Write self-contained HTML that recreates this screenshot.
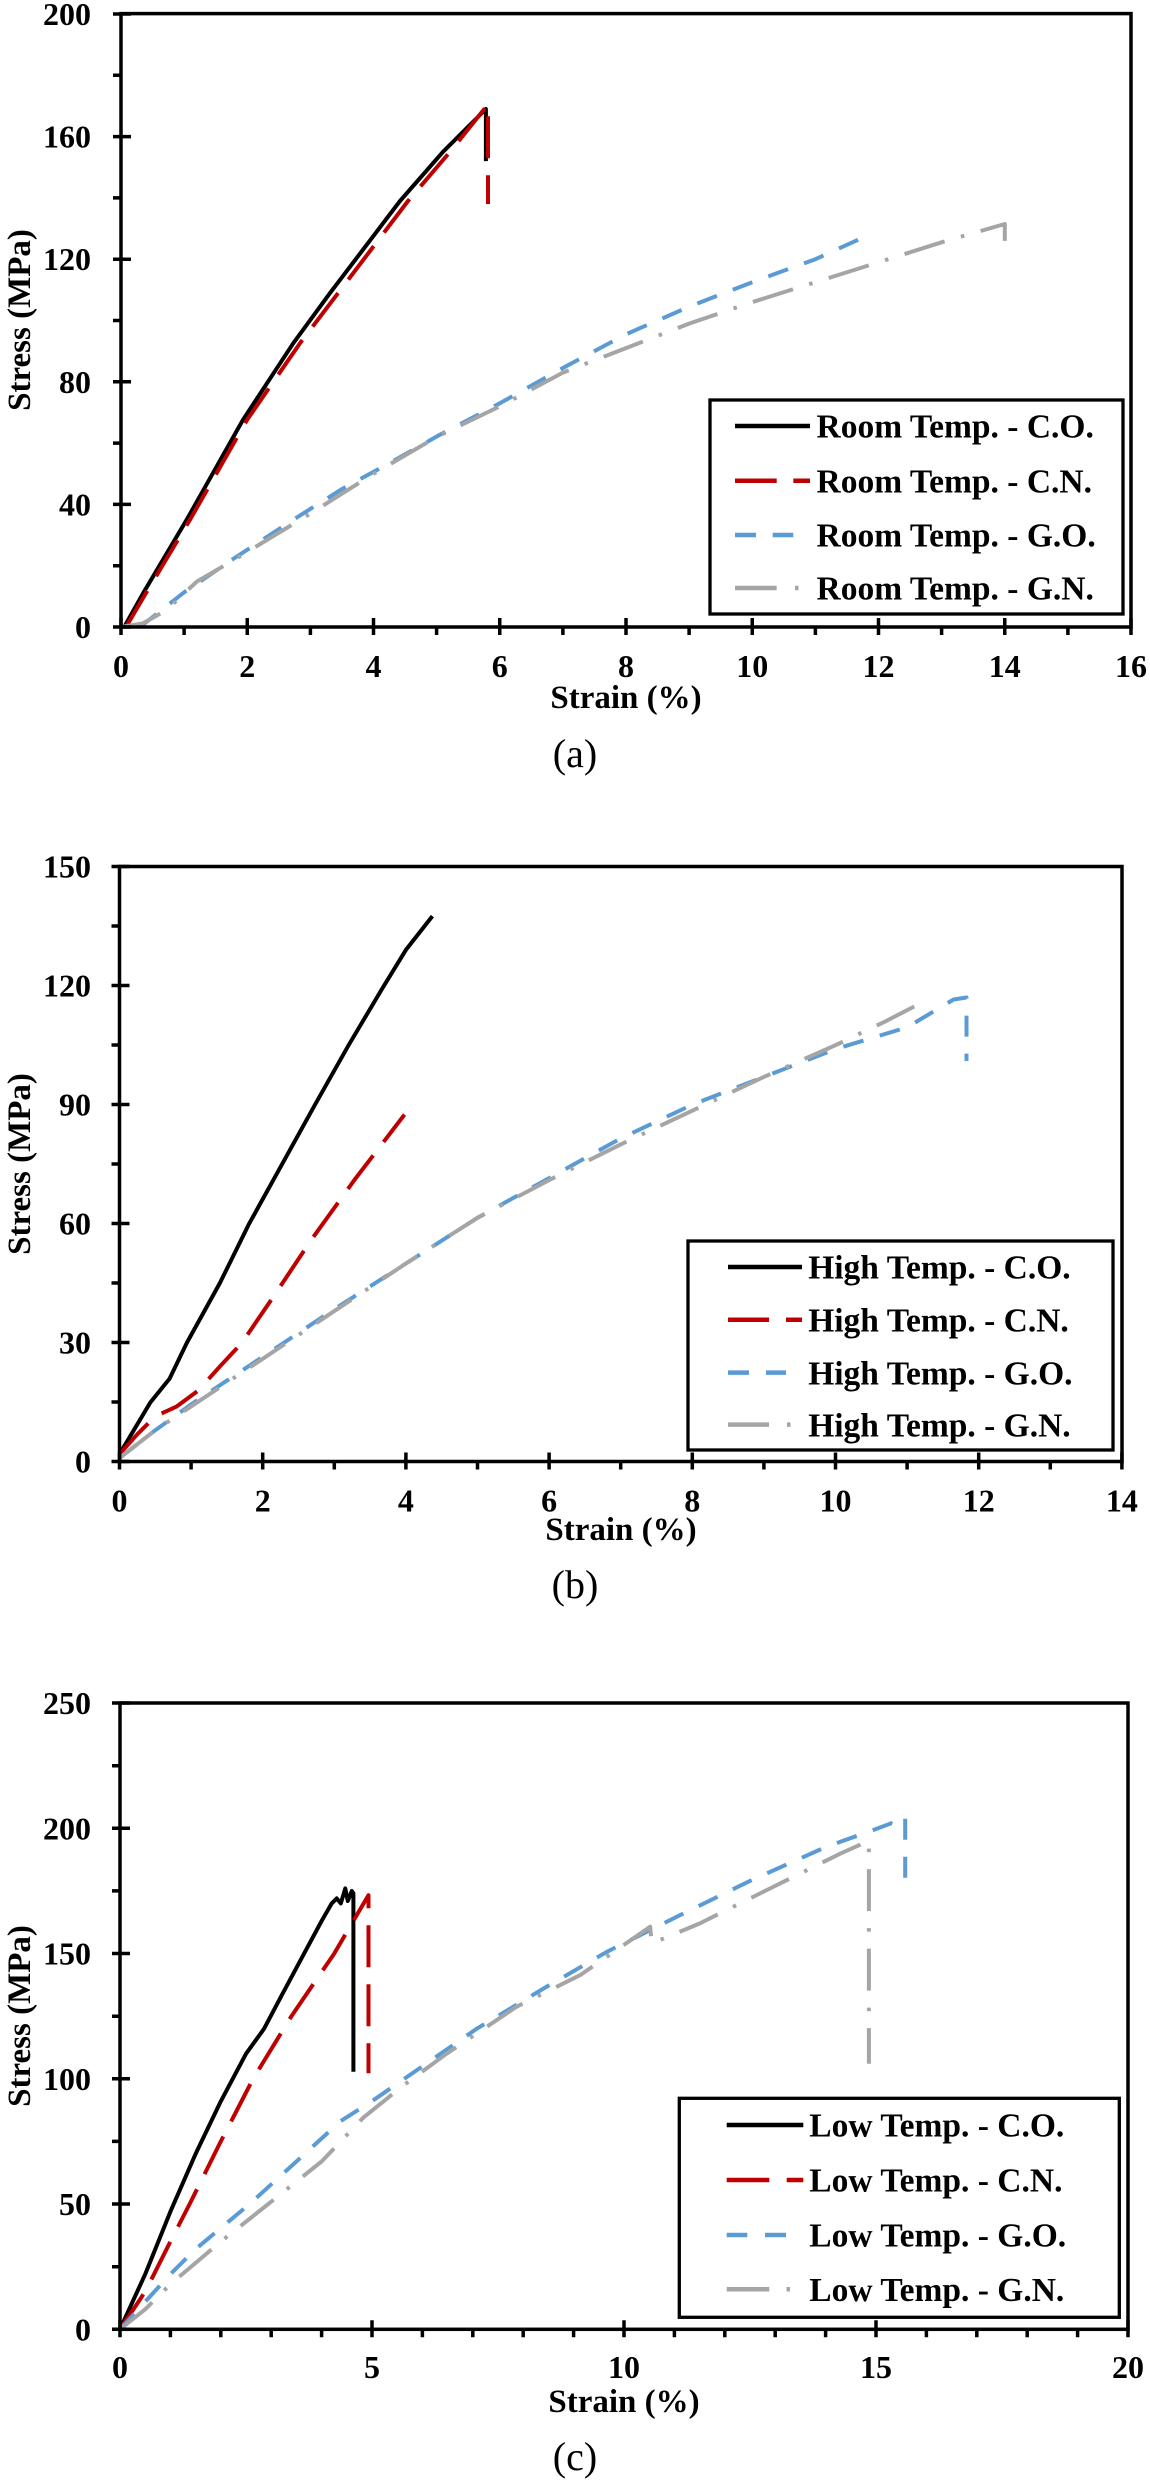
<!DOCTYPE html>
<html><head><meta charset="utf-8"><style>
html,body{margin:0;padding:0;background:#fff;}
svg{display:block;}
text{font-family:"Liberation Serif","Times New Roman",serif;fill:#000;}
.tk{font-size:32px;font-weight:bold;}
.ax{font-size:33px;font-weight:bold;}
.lg{font-size:33.5px;font-weight:bold;}
.cap{font-size:40px;}
.frame{fill:none;stroke:#000;stroke-width:3.5;}
.tick{fill:none;stroke:#000;stroke-width:3.5;}
.s{fill:none;stroke-width:4;stroke-linejoin:round;}
.k{stroke:#000;}
.r{stroke:#c00000;stroke-dasharray:42 17;}
.bl{stroke:#5b9bd5;stroke-dasharray:21 17;}
.g{stroke:#a5a5a5;stroke-dasharray:42 17 3.5 17;}
.lgbox{fill:#fff;stroke:#000;stroke-width:3.3;}
.ls{stroke-width:4.5;fill:none;}
</style></head><body>
<svg width="1150" height="2481" viewBox="0 0 1150 2481" xmlns="http://www.w3.org/2000/svg">
<rect width="1150" height="2481" fill="#fff"/>

<!-- ================= CHART (a) ================= -->
<g>
<path class="s k" d="M124.2,627 L143.1,593.3 L186.7,519.7 L242.8,420.1 L293.3,343.2 L329.9,293.2 L400,201 L442.9,151.9 L485.9,109 L485.9,161.1"/>
<path class="s r" d="M126,627 L146,593 L190,519.7 L247,420 L300,343.2 L338,293.2 L408,201 L450,151.9 L488,104.4 L488,204"/>
<path class="s bl" d="M139.9,627 L155.7,614.7 L184.8,591.8 L234.6,558 L293.3,519.7 L341.9,489.1 L392.4,461.5 L439.8,434.8 L499.8,403.3 L562.9,368 L626,334.3 L689.1,306.7 L752.3,282.2 L815.4,259.2 L865.9,236.2"/>
<path class="s g" d="M121,627 L143.1,623.3 L166.5,610.1 L196.8,581.6 L234.6,559.6 L266.8,540 L310.4,513.6 L373.5,473.8 L436.6,437 L499.8,406.3 L562.9,372.6 L626,348.1 L689.1,323.6 L752.3,302.1 L815.4,282.2 L878.5,262.3 L941.6,242.3 L1004.8,224 L1004.8,247"/>

<rect class="frame" x="121" y="13.6" width="1010" height="613.4"/>
<path class="tick" d="M113,627H131 M113,504.4H131 M113,381.8H131 M113,259.2H131 M113,136.6H131 M113,14H131
M113,565.7H121 M113,443.1H121 M113,320.5H121 M113,197.9H121 M113,75.3H121
M121,618V635 M247.25,618V635 M373.5,618V635 M499.75,618V635 M626,618V635 M752.25,618V635 M878.5,618V635 M1004.75,618V635 M1131,618V635
M184.1,627V635 M310.4,627V635 M436.6,627V635 M562.9,627V635 M689.1,627V635 M815.4,627V635 M941.6,627V635 M1067.9,627V635"/>

<g class="tk" text-anchor="end">
<text x="91" y="638">0</text>
<text x="91" y="515.4">40</text>
<text x="91" y="392.8">80</text>
<text x="91" y="270.2">120</text>
<text x="91" y="147.6">160</text>
<text x="91" y="25">200</text>
</g>
<g class="tk" text-anchor="middle">
<text x="121" y="677">0</text>
<text x="247.25" y="677">2</text>
<text x="373.5" y="677">4</text>
<text x="499.75" y="677">6</text>
<text x="626" y="677">8</text>
<text x="752.25" y="677">10</text>
<text x="878.5" y="677">12</text>
<text x="1004.75" y="677">14</text>
<text x="1131" y="677">16</text>
</g>
<text class="ax" x="626" y="708" text-anchor="middle">Strain (%)</text>
<text class="ax" transform="translate(30,320) rotate(-90)" text-anchor="middle">Stress (MPa)</text>
<text class="cap" x="575" y="767" text-anchor="middle">(a)</text>

<rect class="lgbox" x="710" y="400" width="413" height="214"/>
<path class="ls" stroke="#000" d="M735,426H810"/>
<path class="ls" stroke="#c00000" d="M735,480.7H776.7 M793.3,480.7H810"/>
<path class="ls" stroke="#5b9bd5" d="M735,535H756 M772.7,535H793.3"/>
<path class="ls" stroke="#a5a5a5" d="M735,588H776.7 M795,588H798.5"/>
<text class="lg" x="816.5" y="437.7">Room Temp. - C.O.</text>
<text class="lg" x="816.5" y="492.4">Room Temp. - C.N.</text>
<text class="lg" x="816.5" y="546.7">Room Temp. - G.O.</text>
<text class="lg" x="816.5" y="599.7">Room Temp. - G.N.</text>
</g>

<!-- ================= CHART (b) ================= -->
<g>
<path class="s k" d="M119.5,1454.1 L133.8,1430.2 L150.3,1402.5 L169.6,1378.6 L186.8,1342.9 L219.7,1283.4 L249.1,1223.8 L282,1164.3 L315,1104.7 L348.6,1045.2 L381.6,989.6 L405.9,949.9 L432.4,916.1"/>
<path class="s r" d="M119.5,1454.1 L137.4,1434.2 L155.3,1416.3 L176.8,1406.4 L198.3,1390.5 L219.7,1366.7 L241.9,1342.9 L277,1291.3 L311.4,1239.7 L355.8,1178.1 L404.5,1114.6"/>
<path class="s bl" d="M119.5,1458 L155.3,1430.2 L191.1,1404.4 L262.7,1356.8 L334.3,1309.2 L405.9,1263.5 L477.5,1217.8 L549.1,1178.1 L620.7,1138.4 L692.3,1104.7 L763.9,1076.9 L835.5,1049.1 L907.1,1027.3 L953.6,999.5 L966.5,997.5 L966.5,1061"/>
<path class="s g" d="M119.5,1458 L155.3,1430.2 L191.1,1406.4 L262.7,1358.8 L334.3,1311.1 L405.9,1263.5 L477.5,1217.8 L549.1,1180.1 L620.7,1144.4 L692.3,1110.7 L763.9,1076.9 L835.5,1045.2 L885.6,1021.3 L916.4,1005.4"/>

<rect class="frame" x="119.5" y="866.5" width="1002.5" height="595"/>
<path class="tick" d="M111.5,1461.5H129.5 M111.5,1342.5H129.5 M111.5,1223.5H129.5 M111.5,1104.5H129.5 M111.5,985.5H129.5 M111.5,866.5H129.5
M111.5,1402H119.5 M111.5,1283H119.5 M111.5,1164H119.5 M111.5,1045H119.5 M111.5,926H119.5
M119.5,1452.5V1469.5 M262.7,1452.5V1469.5 M405.9,1452.5V1469.5 M549.1,1452.5V1469.5 M692.3,1452.5V1469.5 M835.5,1452.5V1469.5 M978.7,1452.5V1469.5 M1121.9,1452.5V1469.5
M191.1,1461.5V1469.5 M334.3,1461.5V1469.5 M477.5,1461.5V1469.5 M620.7,1461.5V1469.5 M763.9,1461.5V1469.5 M907.1,1461.5V1469.5 M1050.3,1461.5V1469.5"/>

<g class="tk" text-anchor="end">
<text x="91" y="1472.5">0</text>
<text x="91" y="1353.5">30</text>
<text x="91" y="1234.5">60</text>
<text x="91" y="1115.5">90</text>
<text x="91" y="996.5">120</text>
<text x="91" y="877.5">150</text>
</g>
<g class="tk" text-anchor="middle">
<text x="119.5" y="1511.5">0</text>
<text x="262.7" y="1511.5">2</text>
<text x="405.9" y="1511.5">4</text>
<text x="549.1" y="1511.5">6</text>
<text x="692.3" y="1511.5">8</text>
<text x="835.5" y="1511.5">10</text>
<text x="978.7" y="1511.5">12</text>
<text x="1121.9" y="1511.5">14</text>
</g>
<text class="ax" x="621" y="1540" text-anchor="middle">Strain (%)</text>
<text class="ax" transform="translate(30,1164) rotate(-90)" text-anchor="middle">Stress (MPa)</text>
<text class="cap" x="575" y="1598" text-anchor="middle">(b)</text>

<rect class="lgbox" x="688" y="1241" width="425" height="209"/>
<path class="ls" stroke="#000" d="M728,1267H802"/>
<path class="ls" stroke="#c00000" d="M728,1319.7H769 M786,1319.7H802"/>
<path class="ls" stroke="#5b9bd5" d="M728,1372.6H749 M766,1372.6H786"/>
<path class="ls" stroke="#a5a5a5" d="M728,1424.6H769 M787,1424.6H790.5"/>
<text class="lg" x="808.2" y="1278.7">High Temp. - C.O.</text>
<text class="lg" x="808.2" y="1331.4">High Temp. - C.N.</text>
<text class="lg" x="808.2" y="1384.3">High Temp. - G.O.</text>
<text class="lg" x="808.2" y="1436.3">High Temp. - G.N.</text>
</g>

<!-- ================= CHART (c) ================= -->
<g>
<path class="s k" d="M120,2329.3 L145.2,2274.2 L170.4,2211.6 L195.6,2153.9 L220.8,2101.3 L246,2053.8 L264.1,2028.7 L281.3,1996.1 L301.4,1958.6 L321.6,1921 L331.7,1903.4 L336.7,1898.4 L340.8,1903.4 L345.3,1888.4 L347.8,1901 L351.8,1891 L353.4,1893.4 L353.4,2071.8"/>
<path class="s r" d="M120,2329.3 L145.2,2291.7 L170.4,2241.6 L189.6,2204.1 L220.8,2141.4 L253.1,2078.8 L291.4,2016.2 L334.2,1953.6 L351.8,1923.5 L368.5,1895.2 L368.5,2073.3"/>
<path class="s bl" d="M120,2329.3 L145.2,2301.7 L170.4,2274.2 L195.6,2249.1 L249.5,2204.1 L296.4,2161.5 L340.2,2121.4 L373.5,2100.1 L422.4,2066.3 L476.8,2028.7 L543.4,1988.6 L606.9,1951.8 L676.9,1916.7 L750,1880.9 L825.6,1847.1 L878,1828.3 L891.1,1823.3 L898.7,1825.8 L905.2,1818.3 L905.2,1891"/>
<path class="s g" d="M120,2329.3 L145.2,2309.3 L170.4,2284.2 L220.8,2241.6 L268.2,2204.1 L321.6,2161.5 L363.4,2117.6 L402.2,2086.3 L446.6,2053.7 L516.6,2006.7 L580.2,1975.1 L650.2,1926.7 L651.7,1943.5 L699.6,1923.5 L750,1898.4 L800.4,1873.4 L840.7,1853.4 L868.9,1840.8 L868.9,2063.8"/>

<rect class="frame" x="120" y="1703" width="1008" height="626.3"/>
<path class="tick" d="M112,2329.3H130 M112,2204.05H130 M112,2078.8H130 M112,1953.55H130 M112,1828.3H130 M112,1703H130
M112,2266.7H120 M112,2141.4H120 M112,2016.2H120 M112,1890.9H120 M112,1765.7H120
M120,2320.3V2337.3 M372,2320.3V2337.3 M624,2320.3V2337.3 M876,2320.3V2337.3 M1128,2320.3V2337.3
M170.4,2329.3V2337.3 M220.8,2329.3V2337.3 M271.2,2329.3V2337.3 M321.6,2329.3V2337.3
M422.4,2329.3V2337.3 M472.8,2329.3V2337.3 M523.2,2329.3V2337.3 M573.6,2329.3V2337.3
M674.4,2329.3V2337.3 M724.8,2329.3V2337.3 M775.2,2329.3V2337.3 M825.6,2329.3V2337.3
M926.4,2329.3V2337.3 M976.8,2329.3V2337.3 M1027.2,2329.3V2337.3 M1077.6,2329.3V2337.3"/>

<g class="tk" text-anchor="end">
<text x="91" y="2340.3">0</text>
<text x="91" y="2215">50</text>
<text x="91" y="2089.8">100</text>
<text x="91" y="1964.5">150</text>
<text x="91" y="1839.3">200</text>
<text x="91" y="1714">250</text>
</g>
<g class="tk" text-anchor="middle">
<text x="120" y="2378">0</text>
<text x="372" y="2378">5</text>
<text x="624" y="2378">10</text>
<text x="876" y="2378">15</text>
<text x="1128" y="2378">20</text>
</g>
<text class="ax" x="624" y="2412" text-anchor="middle">Strain (%)</text>
<text class="ax" transform="translate(30,2016) rotate(-90)" text-anchor="middle">Stress (MPa)</text>
<text class="cap" x="575" y="2470" text-anchor="middle">(c)</text>

<rect class="lgbox" x="679.3" y="2098.3" width="440" height="219"/>
<path class="ls" stroke="#000" d="M726.7,2125H803.3"/>
<path class="ls" stroke="#c00000" d="M726.7,2180H769.3 M786.7,2180H803.3"/>
<path class="ls" stroke="#5b9bd5" d="M726.7,2235H747.3 M765,2235H786"/>
<path class="ls" stroke="#a5a5a5" d="M726.7,2289.3H769.3 M786.5,2289.3H790"/>
<text class="lg" x="809.3" y="2136.7">Low Temp. - C.O.</text>
<text class="lg" x="809.3" y="2191.7">Low Temp. - C.N.</text>
<text class="lg" x="809.3" y="2246.7">Low Temp. - G.O.</text>
<text class="lg" x="809.3" y="2301">Low Temp. - G.N.</text>
</g>
</svg>
</body></html>
